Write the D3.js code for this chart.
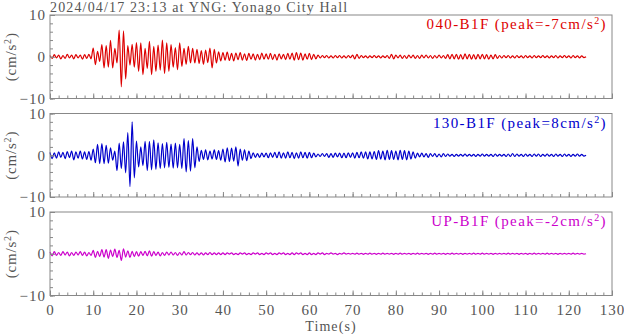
<!DOCTYPE html>
<html>
<head>
<meta charset="utf-8">
<script src="https://cdn.jsdelivr.net/npm/d3@7"></script>
<style>
  html, body { margin: 0; padding: 0; background: #fff; }
  svg { display: block; font-family: "Liberation Serif", "Times New Roman", serif; }
</style>
</head>
<body>
<svg id="chart" width="624" height="334"></svg>
<script>
// Acceleration records, one value every 0.5 s from 0 to 124 s (cm/s^2)
const timeStep = 0.5;

const acc040 = [
  0.3,-0.4,0.5,-0.3,0.4,-0.5,0.3,-0.4,0.6,-0.3,0.4,-0.5,0.5,-0.3,0.4,-0.6,0.5,-0.4,0.6,-0.5,
  2.1,-1.9,1.3,-1.1,2.9,-2.7,2.7,-2.5,3.9,-2.7,
  2.0,-1.5,6.4,-7.2,6.2,-5.3,2.7,-2.0,3.0,-2.5,
  3.4,-3.5,3.3,-4.3,2.0,-2.8,3.7,-4.3,2.5,-3.5,
  2.8,-3.2,4.0,-4.0,3.3,-3.5,2.9,-2.5,2.2,-3.1,
  3.3,-2.3,2.0,-1.8,2.5,-1.5,2.0,-1.5,1.8,-1.6,
  1.5,-1.8,1.6,-1.4,2.1,-2.7,1.8,-1.5,1.2,-1.0,
  1.0,-0.8,1.1,-0.9,0.8,-1.0,0.9,-0.7,1.0,-0.8,
  0.7,-0.9,0.8,-0.6,0.7,-0.8,0.6,-0.7,0.9,-0.6,
  0.7,-0.6,0.8,-0.7,0.6,-0.8,0.7,-0.5,0.6,-0.7,
  0.8,-0.6,0.9,-0.8,1.0,-0.7,0.9,-0.8,0.7,-0.6,
  0.8,-0.7,0.6,-0.5,0.4,-0.3,0.3,-0.2,0.3,-0.3,
  0.2,-0.3,0.3,-0.2,0.3,-0.3,0.2,-0.3,0.3,-0.2,
  0.4,-0.5,0.6,-0.4,0.3,-0.2,0.2,-0.3,0.2,-0.2,
  0.3,-0.2,0.2,-0.3,0.2,-0.2,0.3,-0.4,0.6,-0.5,
  0.4,-0.3,0.4,-0.4,0.3,-0.4,0.4,-0.3,0.4,-0.4,
  0.3,-0.4,0.4,-0.3,0.4,-0.3,0.3,-0.4,0.3,-0.3,
  0.4,-0.3,0.3,-0.4,0.5,-0.5,0.6,-0.5,0.6,-0.6,
  0.5,-0.6,0.7,-0.5,0.6,-0.6,0.5,-0.6,0.6,-0.5,
  0.6,-0.5,0.5,-0.6,0.4,-0.5,0.5,-0.4,0.3,-0.3,
  0.3,-0.2,0.3,-0.3,0.2,-0.3,0.3,-0.2,0.2,-0.3,
  0.3,-0.2,0.2,-0.3,0.3,-0.2,0.2,-0.2,0.3,-0.2,
  0.2,-0.3,0.2,-0.2,0.3,-0.3,0.2,-0.2,0.3,-0.2,
  0.2,-0.3,0.3,-0.2,0.2,-0.3,0.2,-0.2,0.0
];

const acc130 = [
  0.7,-0.8,0.6,-0.7,0.8,-0.5,0.7,-0.8,0.9,-0.6,1.0,-1.1,0.8,-0.7,1.0,-0.9,0.8,-1.0,0.9,-1.2,
  1.5,-1.8,2.6,-2.0,2.8,-2.0,2.4,-1.9,1.8,-1.2,
  1.0,-3.7,2.9,-3.2,3.2,-4.2,5.4,-7.5,8.0,-5.4,
  3.4,-2.8,2.0,-2.5,3.3,-3.7,3.3,-3.5,3.7,-3.4,
  3.0,-3.2,2.8,-3.0,3.1,-2.9,2.7,-3.1,2.9,-3.0,
  2.6,-3.2,4.0,-4.0,3.5,-3.8,4.0,-3.0,2.0,-1.5,
  1.2,-1.0,1.3,-1.1,1.0,-0.9,1.3,-1.0,1.1,-1.2,
  1.5,-1.6,1.8,-1.5,1.7,-1.4,2.0,-2.6,1.5,-1.2,
  1.3,-1.3,1.0,-0.8,0.6,-0.5,0.4,-0.5,0.5,-0.4,
  0.5,-0.6,0.6,-0.5,0.7,-0.6,0.8,-0.7,0.6,-0.7,
  0.8,-0.6,0.7,-0.8,0.6,-0.7,0.8,-0.6,0.7,-0.7,
  0.7,-0.6,0.5,-0.4,0.3,-0.3,0.4,-0.3,0.4,-0.5,
  0.4,-0.5,0.5,-0.4,0.5,-0.6,0.5,-0.6,0.6,-0.5,
  0.6,-0.7,0.7,-0.6,0.8,-0.7,0.8,-0.9,0.8,-0.9,
  0.9,-1.0,1.1,-0.9,1.0,-1.1,1.2,-1.0,1.1,-1.0,
  1.0,-1.1,1.2,-1.0,1.1,-1.1,1.0,-0.9,0.8,-0.7,
  0.5,-0.4,0.5,-0.4,0.4,-0.5,0.4,-0.3,0.4,-0.4,
  0.3,-0.4,0.4,-0.3,0.3,-0.2,0.2,-0.3,0.2,-0.2,
  0.2,-0.2,0.3,-0.2,0.2,-0.2,0.2,-0.3,0.2,-0.2,
  0.3,-0.2,0.2,-0.2,0.2,-0.3,0.3,-0.2,0.2,-0.2,
  0.2,-0.3,0.3,-0.3,0.4,-0.3,0.3,-0.2,0.2,-0.3,
  0.3,-0.2,0.2,-0.3,0.3,-0.2,0.3,-0.3,0.2,-0.2,
  0.3,-0.2,0.2,-0.3,0.3,-0.2,0.2,-0.3,0.3,-0.2,
  0.2,-0.3,0.2,-0.2,0.3,-0.2,0.2,-0.2,0.0
];

const accUP = [
  0.4,-0.5,0.5,-0.4,0.3,-0.4,0.5,-0.3,0.4,-0.5,0.3,-0.4,0.4,-0.3,0.5,-0.4,0.4,-0.5,0.3,-0.4,
  0.8,-0.9,0.6,-0.7,1.0,-0.8,1.0,-1.1,0.9,-0.7,
  1.1,-0.9,0.8,-1.6,1.2,-0.8,0.7,-0.9,0.6,-0.7,
  0.5,-0.6,0.5,-0.4,0.6,-0.5,0.7,-0.6,0.5,-0.4,
  0.4,-0.5,0.3,-0.4,0.4,-0.3,0.4,-0.3,0.3,-0.4,
  0.3,-0.3,0.5,-0.3,0.3,-0.2,0.3,-0.3,0.2,-0.3,
  0.2,-0.3,0.2,-0.2,0.3,-0.2,0.2,-0.2,0.2,-0.2,
  0.2,-0.2,0.2,-0.1,0.2,-0.2,0.1,-0.2,0.2,-0.1,
  0.2,-0.2,0.1,-0.2,0.2,-0.1,0.2,-0.2,0.1,-0.2,
  0.2,-0.1,0.2,-0.2,0.1,-0.2,0.2,-0.1,0.2,-0.2,
  0.1,-0.2,0.2,-0.2,0.2,-0.1,0.2,-0.2,0.1,-0.2,
  0.2,-0.2,0.1,-0.2,0.2,-0.1,0.2,-0.2,0.1,-0.1,
  0.2,-0.1,0.1,-0.2,0.1,-0.1,0.2,-0.1,0.1,-0.1,
  0.1,-0.1,0.15,-0.1,0.1,-0.15,0.1,-0.1,0.15,-0.1,
  0.1,-0.15,0.1,-0.1,0.15,-0.1,0.1,-0.1,0.1,-0.15,
  0.1,-0.1,0.15,-0.1,0.1,-0.1,0.1,-0.15,0.1,-0.1,
  0.15,-0.1,0.1,-0.1,0.1,-0.15,0.1,-0.1,0.15,-0.1,
  0.1,-0.1,0.1,-0.15,0.1,-0.1,0.15,-0.1,0.1,-0.1,
  0.1,-0.15,0.1,-0.1,0.1,-0.1,0.15,-0.1,0.1,-0.1,
  0.15,-0.1,0.1,-0.1,0.1,-0.15,0.1,-0.1,0.1,-0.1,
  0.1,-0.1,0.15,-0.1,0.1,-0.1,0.1,-0.15,0.1,-0.1,
  0.1,-0.15,0.1,-0.1,0.15,-0.1,0.1,-0.1,0.1,-0.1,
  0.15,-0.1,0.1,-0.1,0.1,-0.15,0.1,-0.1,0.1,-0.1,
  0.1,-0.1,0.15,-0.1,0.1,-0.1,0.1,-0.1,0.0
];

const channelNames = ["040-B1F", "130-B1F", "UP-B1F"];
const channelColors = ["#dd0000", "#0000cc", "#cc00cc"];
const channelData = [acc040, acc130, accUP];

const titleText = "2024/04/17 23:13 at YNG: Yonago City Hall";
const xLabelText = "Time(s)";
const xMajorTicks = d3.range(0, 131, 10);
const xMinorTicks = d3.range(0, 131, 2);
const yMajorTicks = [-10, 0, 10];
const yMinorTicks = d3.range(-10, 11, 2);

const svg = d3.select("#chart");
const left = 50, right = 612;
const panelTop = [15, 113.5, 212];
const panelH = 83.5;
const axisColor = "#888";
const textColor = "#555";
const fontSize = 15;

const x = d3.scaleLinear().domain([0, 130]).range([left, right]);

// Title
svg.append("text")
  .attr("x", left).attr("y", 12)
  .attr("font-size", 14).attr("fill", textColor)
  .attr("letter-spacing", 1.15)
  .text(titleText);

channelData.forEach((vals, k) => {
  const top = panelTop[k];
  const bottom = top + panelH;
  const y = d3.scaleLinear().domain([-10, 10]).range([bottom, top]);
  const g = svg.append("g");

  // Trace
  const pts = vals.map((v, i) => [i * timeStep, v]);
  const line = d3.line()
    .x(d => x(d[0])).y(d => y(d[1]))
    .curve(d3.curveMonotoneX);
  g.append("path")
    .attr("d", line(pts))
    .attr("fill", "none")
    .attr("stroke", channelColors[k])
    .attr("stroke-width", 1.2)
    .attr("stroke-linejoin", "round");

  // Ticks along the bottom (labels on the last panel only)
  g.append("g").attr("transform", `translate(0,${bottom})`)
    .call(d3.axisBottom(x).tickValues(xMinorTicks).tickSize(-3).tickFormat(""))
    .call(s => s.select(".domain").remove());
  g.append("g").attr("class", "xlab").attr("transform", `translate(0,${bottom})`)
    .call(d3.axisBottom(x).tickValues(xMajorTicks).tickSize(-5).tickPadding(9)
      .tickFormat(k === 2 ? d3.format("d") : ""))
    .call(s => s.select(".domain").remove());

  // Left axis
  g.append("g").attr("transform", `translate(${left},0)`)
    .call(d3.axisLeft(y).tickValues(yMinorTicks).tickSize(-3).tickFormat(""))
    .call(s => s.select(".domain").remove());
  g.append("g").attr("class", "ylab").attr("transform", `translate(${left},0)`)
    .call(d3.axisLeft(y).tickValues(yMajorTicks).tickSize(-5).tickPadding(4)
      .tickFormat(d3.format("d")))
    .call(s => s.select(".domain").remove());

  // Frame
  g.append("rect")
    .attr("x", left).attr("y", top)
    .attr("width", right - left).attr("height", panelH)
    .attr("fill", "none").attr("stroke", axisColor).attr("stroke-width", 1);

  // Y label
  const yl = g.append("text")
    .attr("transform", `translate(16,${top + panelH / 2}) rotate(-90)`)
    .attr("text-anchor", "middle")
    .attr("font-size", fontSize).attr("fill", textColor)
    .attr("letter-spacing", 0.8);
  yl.append("tspan").text("(cm/s");
  yl.append("tspan").attr("baseline-shift", "super").attr("font-size", 10).text("2");
  yl.append("tspan").text(")");

  // Channel label with peak value
  const peak = vals.reduce((a, b) => Math.abs(b) > Math.abs(a) ? b : a, 0);
  const lab = g.append("text")
    .attr("x", 607).attr("y", top + 14)
    .attr("text-anchor", "end")
    .attr("font-size", fontSize).attr("fill", channelColors[k])
    .attr("letter-spacing", 1.4);
  lab.append("tspan").text(`${channelNames[k]} (peak=${Math.round(peak)}cm/s`);
  lab.append("tspan").attr("baseline-shift", "super").attr("font-size", 10).text("2");
  lab.append("tspan").text(")");
});

svg.selectAll(".tick line").attr("stroke", axisColor);
svg.selectAll(".tick text")
  .attr("font-family", "Liberation Serif, serif")
  .attr("font-size", fontSize).attr("fill", textColor)
  .attr("letter-spacing", 1);

svg.append("text")
  .attr("x", (left + right) / 2).attr("y", 331)
  .attr("text-anchor", "middle")
  .attr("font-size", 14).attr("fill", textColor)
  .attr("letter-spacing", 1.1)
  .text(xLabelText);
</script>
</body>
</html>
